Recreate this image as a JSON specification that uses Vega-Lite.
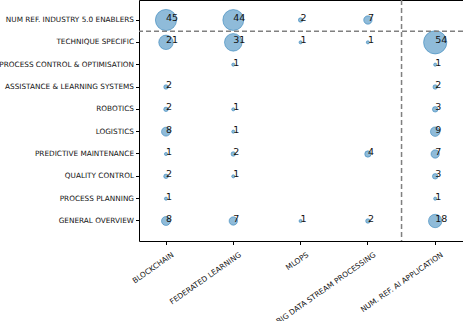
{
  "$schema": "https://vega.github.io/schema/vega-lite/v6.json",
  "width": 324,
  "height": 241,
  "autosize": "none",
  "padding": {"left": 139, "top": 0, "right": 0, "bottom": 80},
  "config": {
    "view": {"stroke": "black", "strokeWidth": 1},
    "font": "DejaVu Sans",
    "axis": {"domain": false, "grid": false, "tickColor": "black", "tickSize": 3.5, "labelColor": "#111", "labelFont": "DejaVu Sans", "labelFontSize": 7.3, "title": null}
  },
  "datasets": {
    "cells": [
      {"row": "NUM REF. INDUSTRY 5.0 ENABLERS", "col": "BLOCKCHAIN", "n": 45},
      {"row": "NUM REF. INDUSTRY 5.0 ENABLERS", "col": "FEDERATED LEARNING", "n": 44},
      {"row": "NUM REF. INDUSTRY 5.0 ENABLERS", "col": "MLOPS", "n": 2},
      {"row": "NUM REF. INDUSTRY 5.0 ENABLERS", "col": "BIG DATA STREAM PROCESSING", "n": 7},
      {"row": "TECHNIQUE SPECIFIC ", "col": "BLOCKCHAIN", "n": 21},
      {"row": "TECHNIQUE SPECIFIC ", "col": "FEDERATED LEARNING", "n": 31},
      {"row": "TECHNIQUE SPECIFIC ", "col": "MLOPS", "n": 1},
      {"row": "TECHNIQUE SPECIFIC ", "col": "BIG DATA STREAM PROCESSING", "n": 1},
      {"row": "TECHNIQUE SPECIFIC ", "col": "NUM. REF. AI APPLICATION", "n": 54},
      {"row": "PROCESS CONTROL & OPTIMISATION", "col": "FEDERATED LEARNING", "n": 1},
      {"row": "PROCESS CONTROL & OPTIMISATION", "col": "NUM. REF. AI APPLICATION", "n": 1},
      {"row": "ASSISTANCE & LEARNING SYSTEMS", "col": "BLOCKCHAIN", "n": 2},
      {"row": "ASSISTANCE & LEARNING SYSTEMS", "col": "NUM. REF. AI APPLICATION", "n": 2},
      {"row": "ROBOTICS", "col": "BLOCKCHAIN", "n": 2},
      {"row": "ROBOTICS", "col": "FEDERATED LEARNING", "n": 1},
      {"row": "ROBOTICS", "col": "NUM. REF. AI APPLICATION", "n": 3},
      {"row": "LOGISTICS", "col": "BLOCKCHAIN", "n": 8},
      {"row": "LOGISTICS", "col": "FEDERATED LEARNING", "n": 1},
      {"row": "LOGISTICS", "col": "NUM. REF. AI APPLICATION", "n": 9},
      {"row": "PREDICTIVE MAINTENANCE", "col": "BLOCKCHAIN", "n": 1},
      {"row": "PREDICTIVE MAINTENANCE", "col": "FEDERATED LEARNING", "n": 2},
      {"row": "PREDICTIVE MAINTENANCE", "col": "BIG DATA STREAM PROCESSING", "n": 4},
      {"row": "PREDICTIVE MAINTENANCE", "col": "NUM. REF. AI APPLICATION", "n": 7},
      {"row": "QUALITY CONTROL", "col": "BLOCKCHAIN", "n": 2},
      {"row": "QUALITY CONTROL", "col": "FEDERATED LEARNING", "n": 1},
      {"row": "QUALITY CONTROL", "col": "NUM. REF. AI APPLICATION", "n": 3},
      {"row": "PROCESS PLANNING", "col": "BLOCKCHAIN", "n": 1},
      {"row": "PROCESS PLANNING", "col": "NUM. REF. AI APPLICATION", "n": 1},
      {"row": "GENERAL OVERVIEW ", "col": "BLOCKCHAIN", "n": 8},
      {"row": "GENERAL OVERVIEW ", "col": "FEDERATED LEARNING", "n": 7},
      {"row": "GENERAL OVERVIEW ", "col": "MLOPS", "n": 1},
      {"row": "GENERAL OVERVIEW ", "col": "BIG DATA STREAM PROCESSING", "n": 2},
      {"row": "GENERAL OVERVIEW ", "col": "NUM. REF. AI APPLICATION", "n": 18}
    ],
    "dividers": [
      {"row": "TECHNIQUE SPECIFIC ", "col": "NUM. REF. AI APPLICATION"}
    ]
  },
  "encoding": {
    "x": {
      "field": "col", "type": "nominal",
      "scale": {"type": "band", "domain": ["BLOCKCHAIN", "FEDERATED LEARNING", "MLOPS", "BIG DATA STREAM PROCESSING", "NUM. REF. AI APPLICATION"], "paddingInner": 0, "paddingOuter": 0, "range": [-6.65, 329.85]},
      "axis": {"labelAngle": -35, "labelAlign": "right", "labelBaseline": "top", "labelPadding": 6, "labelOffset": 5, "labelFontSize": 7.5}
    },
    "y": {
      "field": "row", "type": "nominal",
      "scale": {"type": "band", "domain": ["NUM REF. INDUSTRY 5.0 ENABLERS", "TECHNIQUE SPECIFIC ", "PROCESS CONTROL & OPTIMISATION", "ASSISTANCE & LEARNING SYSTEMS", "ROBOTICS", "LOGISTICS", "PREDICTIVE MAINTENANCE", "QUALITY CONTROL", "PROCESS PLANNING", "GENERAL OVERVIEW "], "paddingInner": 0, "paddingOuter": 0.396},
      "axis": {"labelPadding": 2}
    }
  },
  "layer": [
    {
      "data": {"name": "cells"},
      "mark": {"type": "point", "filled": true, "fill": "#1f77b4", "fillOpacity": 0.5, "stroke": "#1f77b4", "strokeOpacity": 0.5, "strokeWidth": 1, "opacity": 1},
      "encoding": {
        "size": {"field": "n", "type": "quantitative", "scale": {"type": "linear", "domain": [0, 54], "range": [0, 540]}, "legend": null}
      }
    },
    {
      "data": {"name": "cells"},
      "mark": {"type": "text", "align": "left", "baseline": "alphabetic", "dy": 1, "fontSize": 9.5, "font": "DejaVu Sans", "color": "#111"},
      "encoding": {"text": {"field": "n", "type": "quantitative"}}
    },
    {
      "data": {"name": "dividers"},
      "mark": {"type": "rule", "color": "#808080", "strokeWidth": 1.5, "strokeDash": [5, 3]},
      "encoding": {
        "y": {"field": "row", "type": "nominal", "bandPosition": 0},
        "x": null
      }
    },
    {
      "data": {"name": "dividers"},
      "mark": {"type": "rule", "color": "#808080", "strokeWidth": 1.5, "strokeDash": [5, 3]},
      "encoding": {
        "x": {"field": "col", "type": "nominal", "bandPosition": 0},
        "y": null
      }
    }
  ]
}
